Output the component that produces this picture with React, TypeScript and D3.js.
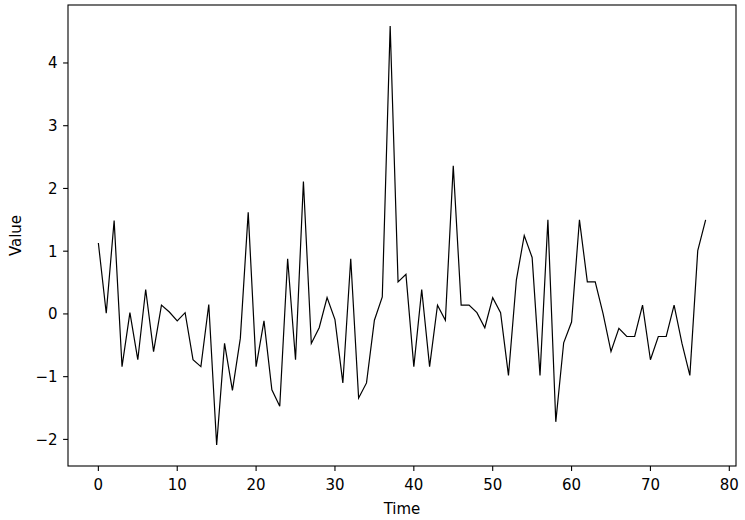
import React from "react";
import * as d3 from "d3";

const values: number[] = [
  1.13, 0.01, 1.49, -0.84, 0.02, -0.73, 0.39, -0.6, 0.14, 0.03,
  -0.11, 0.02, -0.73, -0.84, 0.15, -2.09, -0.47, -1.22, -0.39, 1.62,
  -0.84, -0.11, -1.21, -1.47, 0.88, -0.73, 2.11, -0.47, -0.22, 0.26,
  -0.09, -1.1, 0.88, -1.34, -1.1, -0.1, 0.27, 4.59, 0.51, 0.63,
  -0.84, 0.39, -0.84, 0.14, -0.1, 2.36, 0.14, 0.14, 0.02, -0.22,
  0.26, 0.02, -0.98, 0.54, 1.25, 0.9, -0.98, 1.5, -1.72, -0.46,
  -0.13, 1.5, 0.51, 0.51, 0.0, -0.6, -0.23, -0.36, -0.36, 0.14,
  -0.73, -0.36, -0.36, 0.14, -0.47, -0.98, 1.01, 1.5,
];
const xTicks: number[] = [0, 10, 20, 30, 40, 50, 60, 70, 80];
const yTicks: number[] = [-2, -1, 0, 1, 2, 3, 4];
const xLabel = "Time";
const yLabel = "Value";

const W = 745;
const H = 520;
const left = 68;
const right = 736;
const top = 5;
const bottom = 466;
const font = "'DejaVu Sans', sans-serif";
const fs = 15;

export default function App() {
  const n = values.length;
  const xr = n - 1;
  const ymin = d3.min(values)!;
  const ymax = d3.max(values)!;
  const yr = ymax - ymin;
  const x = d3.scaleLinear().domain([-0.05 * xr, xr * 1.05]).range([left, right]);
  const y = d3.scaleLinear().domain([ymin - 0.05 * yr, ymax + 0.05 * yr]).range([bottom, top]);
  const line = d3
    .line<number>()
    .x((_, i) => x(i))
    .y((d) => y(d));
  const fmt = (v: number) => (v < 0 ? "\u2212" + Math.abs(v) : String(v));
  return (
    <svg width={W} height={H} style={{ position: "absolute", left: 0, top: 0 }}>
      <rect x={0} y={0} width={W} height={H} fill="#fff" />
      <path d={line(values) || ""} fill="none" stroke="#000" strokeWidth={1.2} strokeLinejoin="miter" />
      <rect x={left} y={top} width={right - left} height={bottom - top} fill="none" stroke="#000" strokeWidth={1.1} />
      {xTicks.map((t) => (
        <g key={"x" + t}>
          <line x1={x(t)} x2={x(t)} y1={bottom} y2={bottom + 4.9} stroke="#000" strokeWidth={1.1} />
          <text x={x(t)} y={bottom + 24} textAnchor="middle" fontFamily={font} fontSize={fs} fill="#000">
            {fmt(t)}
          </text>
        </g>
      ))}
      {yTicks.map((t) => (
        <g key={"y" + t}>
          <line x1={left - 4.9} x2={left} y1={y(t)} y2={y(t)} stroke="#000" strokeWidth={1.1} />
          <text x={left - 10.5} y={y(t)} dy="0.36em" textAnchor="end" fontFamily={font} fontSize={fs} fill="#000">
            {fmt(t)}
          </text>
        </g>
      ))}
      <text x={(left + right) / 2} y={514} textAnchor="middle" fontFamily={font} fontSize={fs} fill="#000">
        {xLabel}
      </text>
      <text
        transform={`translate(${20.5}, ${(top + bottom) / 2}) rotate(-90)`}
        textAnchor="middle"
        fontFamily={font}
        fontSize={fs}
        fill="#000"
      >
        {yLabel}
      </text>
    </svg>
  );
}
